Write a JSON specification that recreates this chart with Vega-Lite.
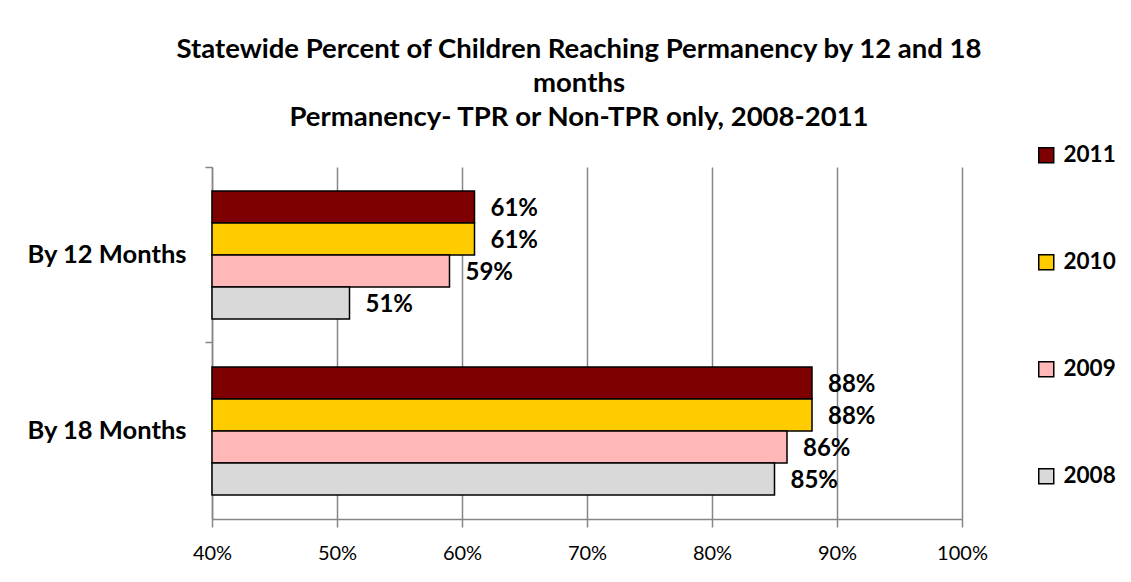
{
  "$schema": "https://vega.github.io/schema/vega-lite/v6.json",
  "width": 750,
  "height": 352,
  "autosize": {"type": "none"},
  "padding": {"left": 212, "top": 167, "right": 169, "bottom": 63},
  "background": "white",
  "config": {"font": "Lato", "view": {"stroke": null}},
  "title": {
    "text": ["Statewide Percent of Children Reaching Permanency by 12 and 18", "months", "Permanency- TPR or Non-TPR only, 2008-2011"],
    "font": "Lato",
    "fontSize": 27.5,
    "fontWeight": "bold",
    "lineHeight": 34,
    "offset": 13,
    "dx": -8,
    "color": "black"
  },
  "data": {
    "values": [
      {"period": "By 12 Months", "year": "2011", "value": 0.61},
      {"period": "By 12 Months", "year": "2010", "value": 0.61},
      {"period": "By 12 Months", "year": "2009", "value": 0.59},
      {"period": "By 12 Months", "year": "2008", "value": 0.51},
      {"period": "By 18 Months", "year": "2011", "value": 0.88},
      {"period": "By 18 Months", "year": "2010", "value": 0.88},
      {"period": "By 18 Months", "year": "2009", "value": 0.86},
      {"period": "By 18 Months", "year": "2008", "value": 0.85}
    ]
  },
  "encoding": {
    "y": {
      "field": "period",
      "type": "nominal",
      "sort": ["By 12 Months", "By 18 Months"],
      "scale": {"paddingInner": 0.2727, "paddingOuter": 0.1364}
    },
    "yOffset": {
      "field": "year",
      "type": "nominal",
      "sort": ["2011", "2010", "2009", "2008"],
      "scale": {"paddingInner": 0, "paddingOuter": 0}
    },
    "x": {
      "field": "value",
      "type": "quantitative",
      "scale": {"domain": [0.4, 1.0], "nice": false, "zero": false},
      "axis": {
        "title": null,
        "format": ".0%",
        "values": [0.4, 0.5, 0.6, 0.7, 0.8, 0.9, 1.0],
        "grid": true,
        "gridColor": "#868686",
        "gridWidth": 1.5,
        "domainColor": "#868686",
        "domainWidth": 1.5,
        "tickColor": "#868686",
        "tickWidth": 1.5,
        "tickSize": 8,
        "labelFlush": false,
        "labelFont": "Lato",
        "labelFontSize": 20,
        "labelColor": "black",
        "labelPadding": 16
      }
    }
  },
  "layer": [
    {
      "mark": {"type": "bar", "stroke": "black", "strokeWidth": 1.5},
      "encoding": {
        "x2": {"datum": 0.4},
        "color": {
          "field": "year",
          "type": "nominal",
          "scale": {
            "domain": ["2011", "2010", "2009", "2008"],
            "range": ["#7F0000", "#FFCC00", "#FFB7B7", "#D9D9D9"]
          },
          "legend": {
            "title": null,
            "orient": "none",
            "legendX": 823,
            "legendY": -23,
            "padding": 0,
            "symbolType": "square",
            "symbolSize": 225,
            "symbolStrokeColor": "black",
            "symbolStrokeWidth": 1.5,
            "symbolOpacity": 1,
            "labelFont": "Lato",
            "labelFontSize": 22.5,
            "labelFontWeight": "bold",
            "labelColor": "black",
            "labelOffset": 6,
            "rowPadding": 84
          }
        },
        "y": {
          "field": "period",
          "type": "nominal",
          "sort": ["By 12 Months", "By 18 Months"],
          "axis": {
            "title": null,
            "orient": "left",
            "ticks": false,
            "labelPadding": 26,
            "labelFont": "Lato",
            "labelFontSize": 25.5,
            "labelFontWeight": "bold",
            "labelColor": "black",
            "domainColor": "#868686",
            "domainWidth": 1.5
          }
        }
      }
    },
    {
      "mark": {"type": "text", "align": "left", "baseline": "middle", "dx": 16, "dy": 2, "font": "Lato", "fontSize": 24, "fontWeight": "bold", "color": "black"},
      "encoding": {
        "text": {"field": "value", "type": "quantitative", "format": ".0%"},
        "y": {
          "field": "period",
          "type": "nominal",
          "sort": ["By 12 Months", "By 18 Months"],
          "axis": {
            "title": null,
            "orient": "left",
            "labels": false,
            "domain": false,
            "ticks": true,
            "tickSize": 7,
            "tickColor": "#868686",
            "tickWidth": 1.5,
            "bandPosition": -0.1875
          }
        }
      }
    }
  ],
  "resolve": {"axis": {"y": "independent"}}
}
